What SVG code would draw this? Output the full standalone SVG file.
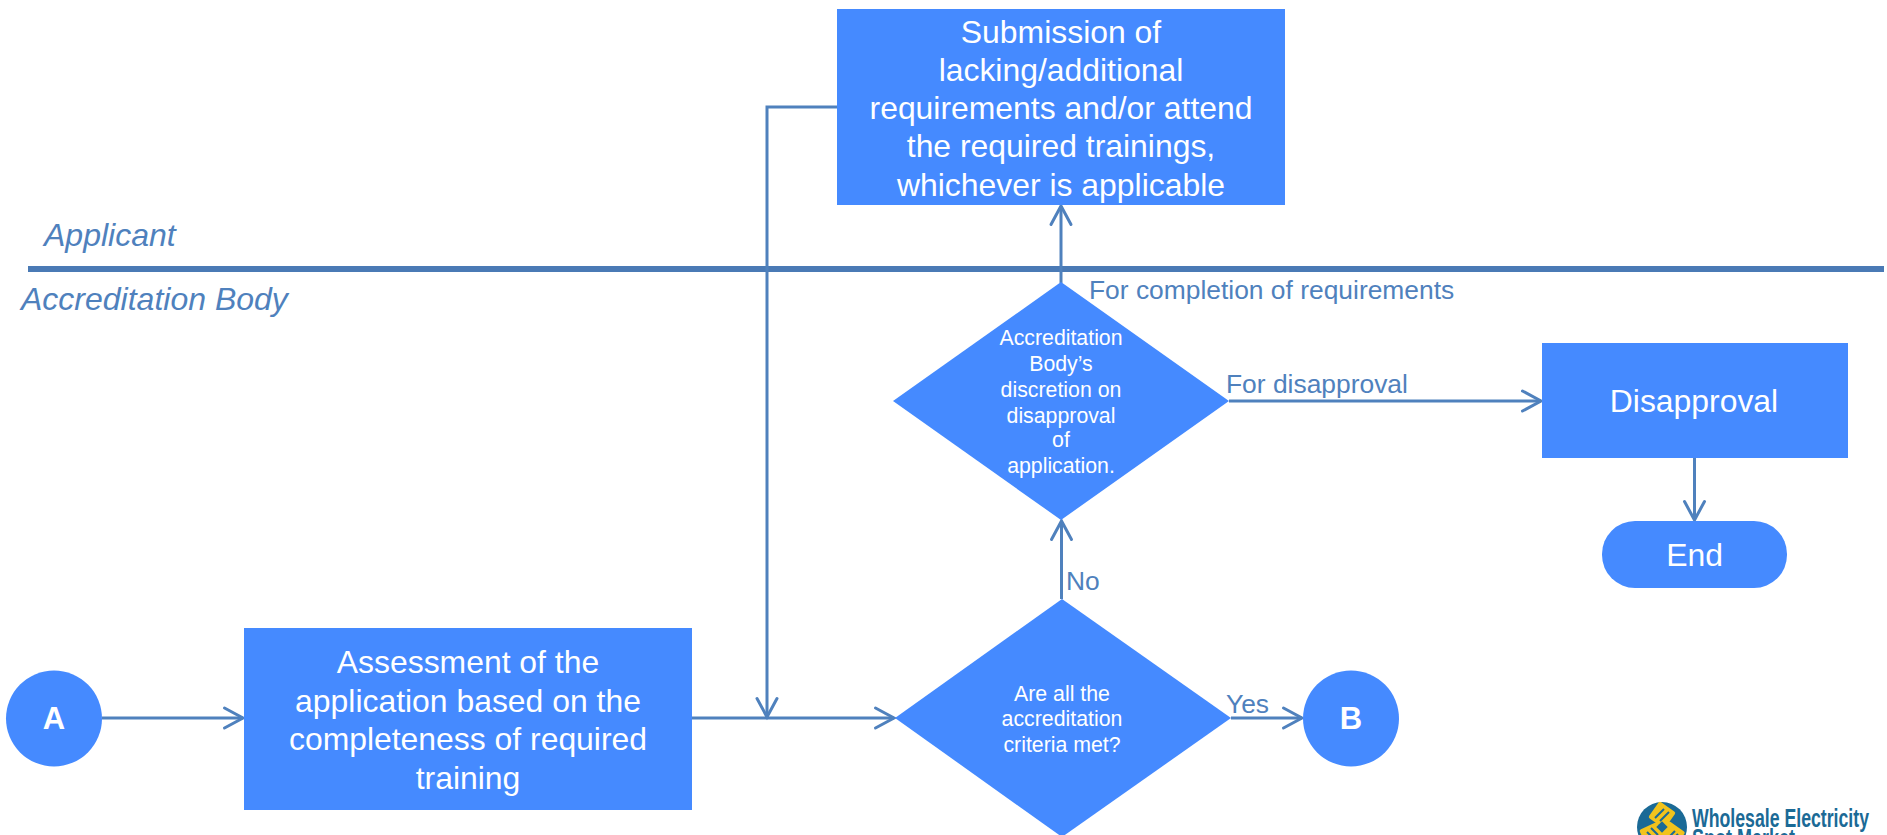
<svg xmlns="http://www.w3.org/2000/svg" width="1887" height="835" viewBox="0 0 1887 835">
<style>
text{font-family:"Liberation Sans",Arial,sans-serif}
.box{fill:#458aff}
.t{fill:#fff;font-size:31.9px;text-anchor:middle}
.s{fill:#fff;font-size:21.3px;text-anchor:middle}
.c{fill:#fff;font-size:31px;font-weight:bold;text-anchor:middle}
.l{fill:#4f81bd;font-size:26.4px}
.h{fill:#4f81bd;font-size:32px;font-style:italic}
.e{fill:none;stroke:#4f81bd;stroke-width:3}
.a{marker-end:url(#arrow)}
.w{fill:#1b6a96;font-weight:bold;font-size:26px}
</style>
<defs>
<marker id="arrow" markerUnits="userSpaceOnUse" markerWidth="24" markerHeight="28" refX="21" refY="14" orient="auto" overflow="visible">
<path d="M2.5 4 L21 14 L2.5 24" fill="none" stroke="#4f81bd" stroke-width="3" stroke-linecap="round"/>
</marker>
</defs>
<rect width="1887" height="835" fill="#fff"/>
<rect id="swimlane-divider" x="28" y="266" width="1856" height="6" fill="#4a7ab5"/>
<text class="h" x="44" y="246">Applicant</text>
<text class="h" x="21" y="310">Accreditation Body</text>
<g id="connectors">
<path class="e a" d="M102 718H243"/>
<path class="e a" d="M692 718H894"/>
<path class="e a" d="M837 107H767V717"/>
<path class="e a" d="M1061.500 599V521"/>
<path class="e a" d="M1061 283V206"/>
<path class="e a" d="M1229 401H1541"/>
<path class="e a" d="M1231 718H1302"/>
<path class="e a" d="M1694.500 458V520"/>
</g>
<text class="l" x="1089" y="299">For completion of requirements</text>
<text class="l" x="1226" y="393">For disapproval</text>
<text class="l" x="1066" y="590">No</text>
<text class="l" x="1226" y="713">Yes</text>
<g id="node-a"><circle class="box" cx="54" cy="718.500" r="48"/><text class="c" x="54" y="729">A</text></g>
<g id="node-assessment"><rect class="box" x="244" y="628" width="448" height="182"/>
<text class="t" x="468" y="673">Assessment of the</text>
<text class="t" x="468" y="712">application based on the</text>
<text class="t" x="468" y="750">completeness of required</text>
<text class="t" x="468" y="789">training</text></g>
<g id="node-submission"><rect class="box" x="837" y="9" width="448" height="196"/>
<text class="t" x="1061" y="43">Submission of</text>
<text class="t" x="1061" y="81">lacking/additional</text>
<text class="t" x="1061" y="119">requirements and/or attend</text>
<text class="t" x="1061" y="157">the required trainings,</text>
<text class="t" x="1061" y="196">whichever is applicable</text></g>
<g id="node-discretion"><polygon class="box" points="1061,282 1229,401 1061,520 893,401"/>
<text class="s" x="1061" y="345">Accreditation</text>
<text class="s" x="1061" y="371">Body’s</text>
<text class="s" x="1061" y="396.500">discretion on</text>
<text class="s" x="1061" y="422.500">disapproval</text>
<text class="s" x="1061" y="447">of</text>
<text class="s" x="1061" y="473">application.</text></g>
<g id="node-criteria"><polygon class="box" points="1062,599 1231,718 1062,837 895,718"/>
<text class="s" x="1062" y="701">Are all the</text>
<text class="s" x="1062" y="726">accreditation</text>
<text class="s" x="1062" y="752">criteria met?</text></g>
<g id="node-b"><circle class="box" cx="1351" cy="718.500" r="48"/><text class="c" x="1351" y="729">B</text></g>
<g id="node-disapproval"><rect class="box" x="1542" y="343" width="306" height="115"/><text class="t" x="1694" y="412">Disapproval</text></g>
<g id="node-end"><rect class="box" x="1602" y="521" width="185" height="67" rx="33" ry="33"/><text class="t" x="1694.500" y="566">End</text></g>
<g id="logo">
<circle cx="1662" cy="827" r="25" fill="#1b6a96"/>
<g fill="#f2c31c">
<rect x="1652" y="805" width="20" height="20" rx="2" transform="rotate(35 1662 815)"/>
<rect x="1642" y="825" width="20" height="18" rx="2" transform="rotate(-25 1652 834)"/>
<rect x="1662" y="825" width="20" height="18" rx="2" transform="rotate(35 1672 834)"/>
</g>
<g stroke="#1b6a96" stroke-width="2" fill="none">
<path d="M1655 818l9-9M1660 821l9-9M1647 832l7 7M1651 828l7 7M1668 838l7-7M1672 840l6-6"/>
</g>
<rect x="1658" y="823" width="8" height="8" fill="#1b6a96" transform="rotate(45 1662 827)"/>
<text class="w" x="1692" y="827" textLength="177" lengthAdjust="spacingAndGlyphs">Wholesale Electricity</text>
<text class="w" x="1692" y="847" textLength="103" lengthAdjust="spacingAndGlyphs">Spot Market</text>
</g>
</svg>
